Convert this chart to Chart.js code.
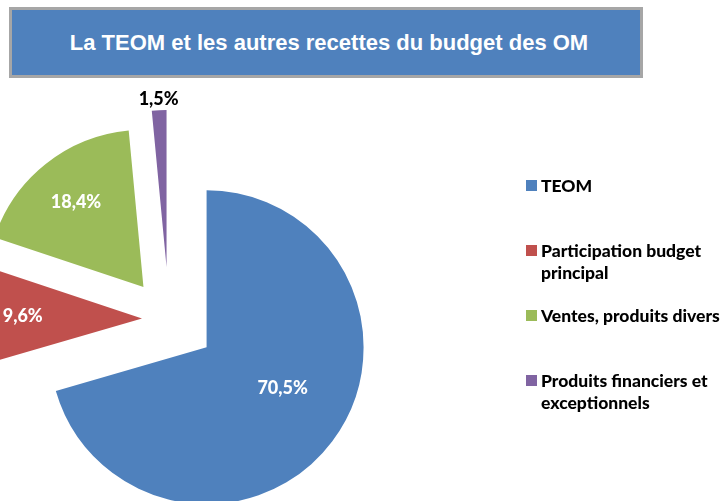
<!DOCTYPE html>
<html lang="fr">
<head>
<meta charset="utf-8">
<script src="https://cdn.jsdelivr.net/npm/chart.js@4.4.0/dist/chart.umd.min.js"></script>
<style>
  html, body { margin: 0; padding: 0; background: #fff; }
  #wrap { position: relative; width: 720px; height: 501px; overflow: hidden; }
  #pie { position: absolute; left: 0; top: 0; }
  #title {
    position: absolute; left: 9px; top: 7px; width: 634px; height: 71px;
    box-sizing: border-box; border: 3px solid #a6a6a6; background: #4f81bd;
    color: #fff; font: bold 22px "Liberation Sans", Arial, sans-serif;
    display: flex; align-items: center; justify-content: center; padding-left: 6px;
  }
  #legend { position: absolute; left: 526px; top: 175px; width: 194px; }
  #legend .item { position: relative; height: 65px; padding-left: 15px;
    font: 900 17.5px Lato, sans-serif; line-height: 22px; color: #000; white-space: nowrap; }
  #legend .box { position: absolute; left: 0; top: 5px; width: 11px; height: 11px; }
</style>
</head>
<body>
<div id="wrap">
  <canvas id="pie" width="720" height="501"></canvas>
  <div id="title">La TEOM et les autres recettes du budget des OM</div>
  <div id="legend"></div>
</div>
<script>
const labels = ['TEOM', 'Participation budget principal', 'Ventes, produits divers', 'Produits financiers et exceptionnels'];
const shares = [70.5, 9.6, 18.4, 1.5];

const colors = ['#4f81bd', '#c0504d', '#9bbb59', '#8064a2'];
// how far each slice is pulled out of the pie, and where its label sits (fraction of radius)
const explode = [47, 27, 41, 52];
const labelPos = [0.55, 0.76, 0.69, 1.07];

const fmt = v => v.toFixed(1).replace('.', ',') + '%';

// legend lines break where the original breaks them
const wrapLabel = name => name.replace('budget ', 'budget<br>').replace(' et ', ' et<br>');

const explodePlugin = {
  id: 'explode',
  afterDatasetUpdate(chart, args) {
    args.meta.data.forEach((arc, i) => {
      const mid = (arc.startAngle + arc.endAngle) / 2;
      arc.x += Math.cos(mid) * explode[i];
      arc.y += Math.sin(mid) * explode[i];
    });
  }
};

const valueLabels = {
  id: 'valueLabels',
  afterDatasetsDraw(chart) {
    const ctx = chart.ctx;
    chart.getDatasetMeta(0).data.forEach((arc, i) => {
      // the big slice label sits a bit higher in the original
      const mid = (arc.startAngle + arc.endAngle) / 2 - (i === 0 ? 0.15 : 0);
      const r = arc.outerRadius * labelPos[i];
      ctx.save();
      ctx.font = '900 18px Lato';
      ctx.fillStyle = labelPos[i] > 1 ? '#000' : '#fff';
      ctx.textAlign = 'center';
      ctx.textBaseline = 'middle';
      ctx.fillText(fmt(shares[i]), arc.x + Math.cos(mid) * r, arc.y + Math.sin(mid) * r);
      ctx.restore();
    });
  }
};

new Chart(document.getElementById('pie'), {
  type: 'pie',
  data: {
    labels: labels,
    datasets: [{
      data: shares,
      backgroundColor: colors,
      borderWidth: 0,
      clip: false
    }]
  },
  options: {
    responsive: false,
    animation: false,
    events: [],
    radius: 157,
    layout: { padding: { left: 0, right: 382, top: 137, bottom: 0 } },
    plugins: {
      legend: { display: false },
      tooltip: { enabled: false }
    }
  },
  plugins: [explodePlugin, valueLabels]
});

const legend = document.getElementById('legend');
labels.forEach((name, i) => {
  const item = document.createElement('div');
  item.className = 'item';
  item.innerHTML = '<span class="box" style="background:' + colors[i] + '"></span>' + wrapLabel(name);
  legend.appendChild(item);
});
</script>
</body>
</html>
